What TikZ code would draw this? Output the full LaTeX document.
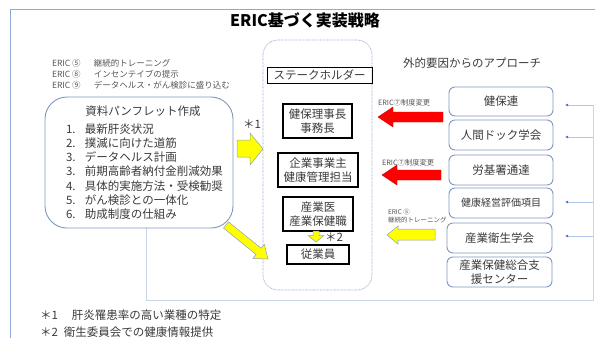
\documentclass[tikz,border=0pt]{standalone}
\usepackage{fontspec}
\setmainfont{Noto Sans CJK JP}
\usetikzlibrary{arrows.meta}
\definecolor{frameblue}{HTML}{8EA9D4}
\definecolor{lightframe}{HTML}{C9D6EC}
\definecolor{boxblue}{HTML}{7F97C0}
\definecolor{dotblue}{HTML}{8FA8D0}
\definecolor{txt}{HTML}{3A3A3A}
\definecolor{gtxt}{HTML}{555555}
\definecolor{connblue}{HTML}{B4C6E7}
\definecolor{tipblue}{HTML}{4472C4}
\definecolor{yel}{HTML}{FFFF00}
\definecolor{yeledge}{HTML}{8EA0B8}
\begin{document}
\begin{tikzpicture}[x=1pt,y=-1pt,
  every node/.style={inner sep=0pt,outer sep=0pt,text=txt},
  shbox/.style={draw=black,line width=1.5pt,minimum width=#1,align=center,font=\fontsize{11.5}{14}\selectfont},
  extbox/.style={draw=boxblue,line width=0.9pt,rounded corners=6pt,minimum width=104pt,minimum height=29pt,align=center,font=\fontsize{11.5}{14}\selectfont},
  redarrow/.style={fill=red,draw=red!75!black,line width=0.4pt},
  yelarrow/.style={fill=yel,draw=yeledge,line width=0.5pt},
  conn/.style={draw=connblue,line width=0.8pt},
  connarrow/.style={draw=connblue,line width=0.8pt,-{Latex[length=3pt,width=3pt,color=tipblue]}},
  tiny/.style={font=\fontsize{7.3}{8}\selectfont,text=gtxt,anchor=west},
]
\useasboundingbox (0,0) rectangle (595,338);

% frames
\draw[frameblue,line width=0.8pt] (10,338) -- (10,9) -- (595,9);
\draw[lightframe,line width=0.8pt] (146,228) -- (146,300) -- (593,300) -- (593,105);

% title
\node (title) at (305,20) {\fontsize{16}{18}\selectfont\bfseries\color{black}ERIC基づく実装戦略};

% ERIC list
\node[anchor=west,align=left,font=\fontsize{8.5}{11}\selectfont,text=gtxt] (ericlist) at (52,74)
 {\makebox[42pt][l]{ERIC ⑤}継続的トレーニング\\
  \makebox[42pt][l]{ERIC ⑧}インセンテイブの提示\\
  \makebox[42pt][l]{ERIC ⑨}データヘルス・がん検診に盛り込む};

% pamphlet box
\draw[boxblue,line width=0.9pt,rounded corners=22pt] (45,97) rectangle (233,228);
\node (pamtitle) at (143,111) {\fontsize{11.5}{14}\selectfont 資料パンフレット作成};
\node[anchor=north west,align=left,font=\fontsize{11.5}{14.1}\selectfont] (pamlist) at (66,124)
 {\makebox[19pt][l]{1.}最新肝炎状況\\
  \makebox[19pt][l]{2.}撲滅に向けた道筋\\
  \makebox[19pt][l]{3.}データヘルス計画\\
  \makebox[19pt][l]{3.}前期高齢者納付金削減効果\\
  \makebox[19pt][l]{4.}具体的実施方法・受検勧奨\\
  \makebox[19pt][l]{5.}がん検診との一体化\\
  \makebox[19pt][l]{6.}助成制度の仕組み};

% stakeholder container
\draw[dotblue,line width=0.7pt,dash pattern=on 0.7pt off 0.7pt,rounded corners=15pt] (263,40) rectangle (372,290);
\node[draw=black,line width=0.8pt,minimum width=105pt,minimum height=16pt,font=\fontsize{11.5}{14}\selectfont] (sh) at (319.5,75) {ステークホルダー};
\node[shbox=69pt,minimum height=34pt] (kenpo) at (317.5,121) {健保理事長\\事務長};
\node[shbox=80pt,minimum height=34pt] (kigyo) at (318,170) {企業事業主\\健康管理担当};
\node[shbox=70pt,minimum height=34pt] (sangyoi) at (318,214) {産業医\\産業保健職};
\node[shbox=62pt,minimum height=19pt] (jugyoin) at (318,254.5) {従業員};

% small arrow *2
\draw[yelarrow] (313,231) -- (319,231) -- (319,235.5) -- (324,235.5) -- (316,242) -- (308,235.5) -- (313,235.5) -- cycle;
\node[font=\fontsize{11.5}{14}\selectfont] (star2) at (334,237) {＊2};

% yellow arrow *1
\draw[yelarrow] (237,140) -- (250,140) -- (250,133) -- (263,149) -- (250,165) -- (250,157) -- (237,157) -- cycle;
\node[font=\fontsize{11.5}{14}\selectfont] (star1) at (252,124) {＊1};

% diagonal yellow arrow
\draw[yelarrow] (228.5,221.9) -- (261.1,248.3) -- (264.3,244.4) -- (268,259) -- (252.9,258.4) -- (256.1,254.5) -- (223.5,228.1) -- cycle;

% external side
\node[font=\fontsize{11.5}{14}\selectfont] (extlabel) at (472,63) {外的要因からのアプローチ};
\node[extbox] (r1) at (501,101.5) {健保連};
\node[extbox,minimum height=30pt] (r2) at (501,135) {人間ドック学会};
\node[extbox,minimum height=30pt] (r3) at (501,170) {労基署通達};
\node[extbox,minimum height=30pt,font=\fontsize{10}{12}\selectfont] (r4) at (501,203) {健康経営評価項目};
\node[extbox,minimum height=30pt,minimum width=105pt] (r5) at (499.5,238) {産業衛生学会};
\node[extbox,minimum height=30pt,minimum width=105pt] (r6) at (499.5,272) {産業保健総合支\\援センター};

% red arrows
\draw[redarrow] (443,112) -- (393,112) -- (393,107) -- (378,117) -- (393,127) -- (393,122) -- (443,122) -- cycle;
\node[tiny] (lab1) at (378,103) {ERIC⑦制度変更};
\draw[redarrow] (441,170) -- (397,170) -- (397,165) -- (382,175) -- (397,185) -- (397,180) -- (441,180) -- cycle;
\node[tiny] (lab2) at (382,163) {ERIC⑦制度変更};

% yellow left arrow
\draw[yelarrow] (435,229) -- (398,229) -- (398,226) -- (387,235) -- (398,244) -- (398,240) -- (435,240) -- cycle;
\node[tiny,font=\fontsize{6.5}{7.5}\selectfont,align=left] (lab3) at (388,216) {ERIC ⑤\\継続的トレーニング};

% right connectors
\coordinate (c1) at (593,105);
\coordinate (e1) at (565,105);
\coordinate (c2) at (593,137);
\coordinate (e2) at (565,137);
\coordinate (c4) at (593,202);
\coordinate (e4) at (565,202);
\coordinate (c5) at (593,236);
\coordinate (e5) at (565,236);
\draw[connarrow] (c1) -- (e1);
\draw[connarrow] (c2) -- (e2);
\draw[connarrow] (c4) -- (e4);
\draw[connarrow] (c5) -- (e5);

% footnotes
\node[anchor=west,font=\fontsize{11.5}{14}\selectfont] (fn1) at (40,315) {＊1\hspace{14pt}肝炎罹患率の高い業種の特定};
\node[anchor=west,font=\fontsize{11.5}{14}\selectfont] (fn2) at (40,332) {＊2\hspace{6pt}衛生委員会での健康情報提供};
\end{tikzpicture}
\end{document}
